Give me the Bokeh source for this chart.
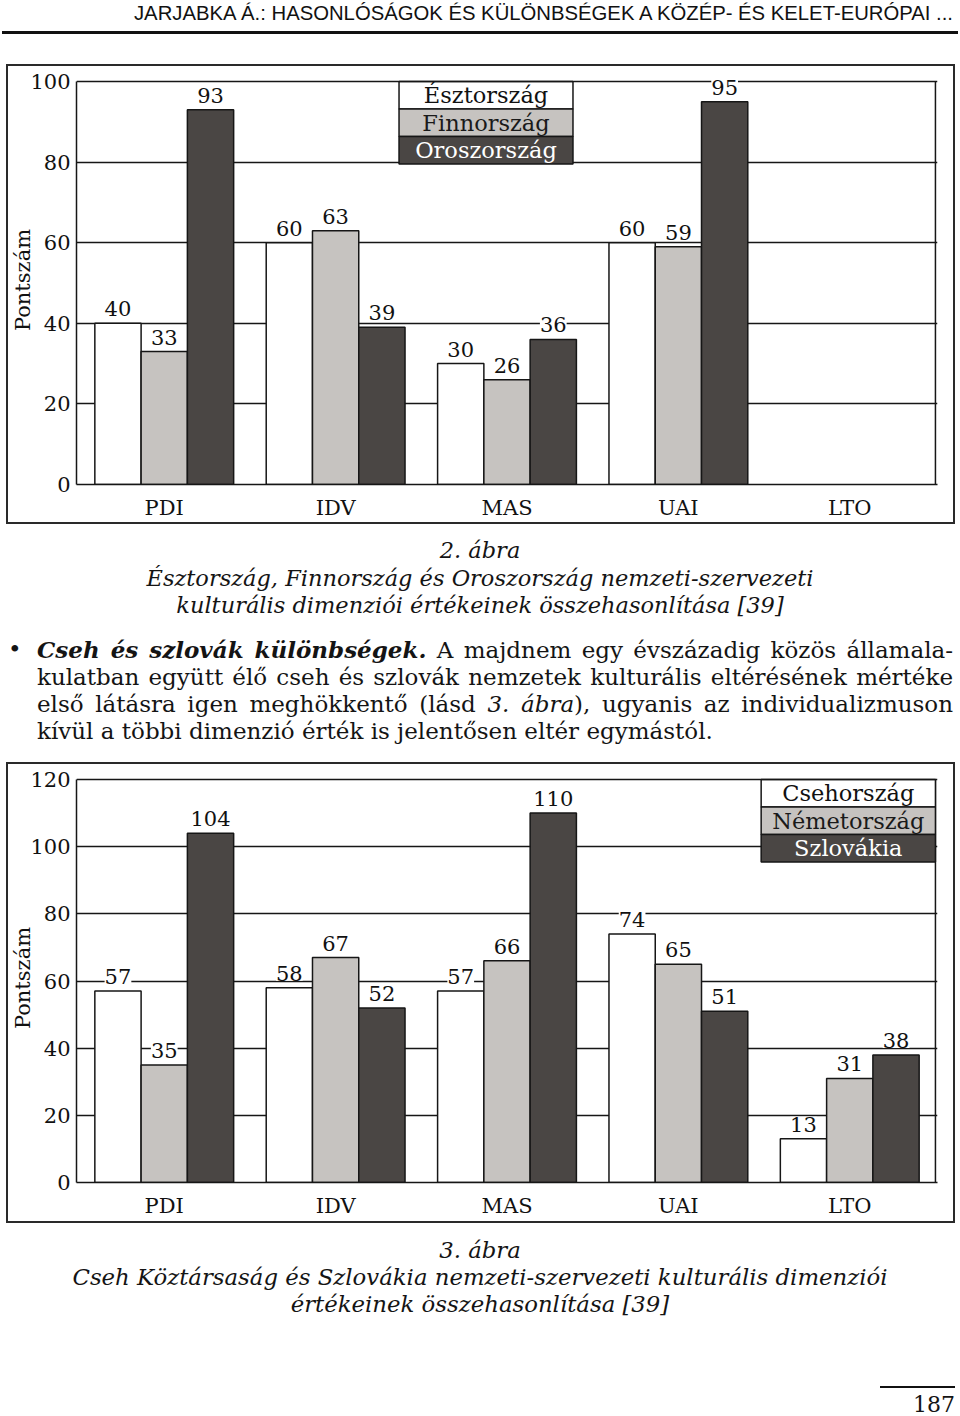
from bokeh.plotting import figure
from bokeh.models import (ColumnDataSource, FactorRange, Range1d, FixedTicker,
                          LabelSet, Span, Div)
from bokeh.layouts import column
from bokeh.transform import dodge
from bokeh.core.properties import value
from bokeh.embed import file_html
from bokeh.resources import INLINE

# ---------------- data ----------------
dimensions = ["PDI", "IDV", "MAS", "UAI", "LTO"]

fig2_countries = ["Észtország", "Finnország", "Oroszország"]
estonia = [40, 60, 30, 60, None]
finland = [33, 63, 26, 59, None]
russia = [93, 39, 36, 95, None]
fig2_yticks = [0, 20, 40, 60, 80, 100]

fig3_countries = ["Csehország", "Németország", "Szlovákia"]
czech = [57, 58, 57, 74, 13]
germany = [35, 67, 66, 65, 31]
slovakia = [104, 52, 110, 51, 38]
fig3_yticks = [0, 20, 40, 60, 80, 100, 120]

y_label = "Pontszám"

header_text = "JARJABKA Á.: HASONLÓSÁGOK ÉS KÜLÖNBSÉGEK A KÖZÉP- ÉS KELET-EURÓPAI ..."
caption2 = ["2. ábra",
            "Észtország, Finnország és Oroszország nemzeti-szervezeti",
            "kulturális dimenziói értékeinek összehasonlítása [39]"]
body_lines = [
    "<b><i>Cseh és szlovák különbségek.</i></b> A majdnem egy évszázadig közös államala-",
    "kulatban együtt élő cseh és szlovák nemzetek kulturális eltérésének mértéke",
    "első látásra igen meghökkentő (lásd <i>3. ábra</i>), ugyanis az individualizmuson",
    "kívül a többi dimenzió érték is jelentősen eltér egymástól.",
]
caption3 = ["3. ábra",
            "Cseh Köztársaság és Szlovákia nemzeti-szervezeti kulturális dimenziói",
            "értékeinek összehasonlítása [39]"]
page_number = "187"

# ---------------- style ----------------
FILLS = ["#ffffff", "#c6c3c0", "#4a4644"]
LEGEND_TEXT = ["#111111", "#1a1a1a", "#ffffff"]
INK = "#161616"
SERIF = "DejaVu Serif"
OFFSETS = [-0.27, 0.0, 0.27]
BAR_W = 0.27


def make_chart(series, names, yticks, height, min_bottom, legend_x, row_h):
    ymax = yticks[-1]
    n = len(dimensions)
    p = figure(x_range=FactorRange(*dimensions, range_padding=0.012,
                                   range_padding_units="absolute"),
               y_range=Range1d(0, ymax * 1.015),
               width=949, height=height, output_backend="svg",
               toolbar_location=None, min_border_left=70, min_border_right=18,
               min_border_top=11, min_border_bottom=min_bottom,
               margin=(0, 0, 0, 6),
               styles={"box-shadow": "inset 0 0 0 2px #2a2a2a"})
    p.border_fill_color = None
    p.background_fill_color = "white"
    p.outline_line_color = None

    # grid
    p.xgrid.grid_line_color = None
    p.ygrid.ticker = FixedTicker(ticks=yticks[1:-1])
    p.ygrid.grid_line_color = INK
    p.ygrid.grid_line_width = 1.5

    # y axis
    p.yaxis.ticker = FixedTicker(ticks=yticks)
    p.yaxis.bounds = (0, ymax)
    p.yaxis.major_tick_line_color = None
    p.yaxis.minor_tick_line_color = None
    p.yaxis.major_tick_out = 0
    p.yaxis.major_tick_in = 0
    p.yaxis.minor_tick_out = 0
    p.yaxis.axis_line_color = INK
    p.yaxis.axis_line_width = 1.5
    p.yaxis.major_label_text_font = SERIF
    p.yaxis.major_label_text_font_size = "21px"
    p.yaxis.major_label_text_color = "#111111"
    p.yaxis.major_label_standoff = 6
    p.yaxis.axis_label = y_label
    p.yaxis.axis_label_text_font = SERIF
    p.yaxis.axis_label_text_font_style = "normal"
    p.yaxis.axis_label_text_font_size = "21px"
    p.yaxis.axis_label_text_color = "#111111"
    p.yaxis.axis_label_standoff = -8

    # x axis
    p.xaxis.major_tick_line_color = None
    p.xaxis.minor_tick_line_color = None
    p.xaxis.major_tick_out = 0
    p.xaxis.major_tick_in = 0
    p.xaxis.axis_line_color = INK
    p.xaxis.axis_line_width = 1.5
    p.xaxis.major_label_text_font = SERIF
    p.xaxis.major_label_text_font_size = "21px"
    p.xaxis.major_label_text_color = "#111111"
    p.xaxis.major_label_standoff = 11

    # closing top and right edges of the plot box
    p.add_layout(Span(location=ymax, dimension="width", line_color=INK, line_width=1.5))
    p.segment(x0=[n], y0=[0], x1=[n], y1=[ymax], line_color=INK, line_width=1.5)

    # bars
    sources = []
    for i, vals in enumerate(series):
        xs = [d for d, v in zip(dimensions, vals) if v is not None]
        ys = [v for v in vals if v is not None]
        src = ColumnDataSource(dict(x=xs, top=ys, label=[str(v) for v in ys]))
        sources.append(src)
        p.vbar(x=dodge("x", OFFSETS[i], range=p.x_range), top="top", width=BAR_W,
               source=src, fill_color=FILLS[i], line_color=INK, line_width=1.5)

    # legend (stacked boxes)
    x0, x1 = legend_x
    tops = [ymax - k * row_h for k in range(len(names))]
    p.quad(left=x0, right=x1, top=tops, bottom=[t - row_h for t in tops],
           fill_color=FILLS, line_color=INK, line_width=1.5)
    p.text(x=[(x0 + x1) / 2] * len(names), y=[t - row_h / 2 for t in tops], text=names,
           text_font=value(SERIF), text_font_size=value("22.5px"), text_align="center",
           text_baseline="middle", text_color=LEGEND_TEXT)

    # value labels
    for i, src in enumerate(sources):
        ls = LabelSet(x=dodge("x", OFFSETS[i], range=p.x_range), y="top",
                      text="label", source=src, text_align="center",
                      text_baseline="alphabetic", y_offset=7,
                      text_font=value(SERIF), text_font_size=value("21px"),
                      text_color="#111111", background_fill_color="white")
        try:
            ls.padding = dict(x=6, y=0)
        except Exception:
            pass
        p.add_layout(ls)
    return p


p1 = make_chart([estonia, finland, russia], fig2_countries, fig2_yticks,
                height=460, min_bottom=40, legend_x=(1.87, 2.885), row_h=6.82)
p2 = make_chart([czech, germany, slovakia], fig3_countries, fig3_yticks,
                height=461, min_bottom=41, legend_x=(3.983, 5.0), row_h=8.18)

# ---------------- text blocks ----------------
def line_div(text, top, left=0, width=960, align="center", size=22.5, italic=False, last="auto"):
    st = ("position:absolute;left:%spx;top:%spx;width:%spx;text-align:%s;text-align-last:%s;"
          "font-family:'DejaVu Serif',serif;font-size:%spx;line-height:27px;color:#141414;"
          "font-style:%s;" % (left, top, width, align, last, size, "italic" if italic else "normal"))
    return '<div style="%s">%s</div>' % (st, text)


header_html = (
    '<div style="position:relative;width:960px;height:64px;">'
    '<div style="position:absolute;right:7px;top:3px;font-family:\'Liberation Sans\',Arial,sans-serif;'
    'font-size:20.3px;line-height:20.3px;color:#111;white-space:nowrap;">%s</div>'
    '<div style="position:absolute;left:2px;top:31px;width:956px;height:2.5px;background:#111;"></div>'
    '</div>' % header_text)

mid_parts = []
for t, top in zip(caption2, [12.5, 40.5, 67.5]):
    mid_parts.append(line_div(t, top, italic=True))
mid_parts.append('<div style="position:absolute;left:8px;top:111.5px;font-family:\'DejaVu Serif\',serif;'
                 'font-size:23px;line-height:27px;color:#141414;">&#8226;</div>')
for k, (t, top) in enumerate(zip(body_lines, [111.5, 139.5, 166.5, 193.5])):
    last = "justify" if k < 3 else "left"
    mid_parts.append(line_div(t, top, left=37, width=916, align="justify" if k < 3 else "left",
                              size=23, last=last))
mid_html = '<div style="position:relative;width:960px;height:238px;">%s</div>' % "".join(mid_parts)

bot_parts = []
for t, top in zip(caption3, [13.5, 40.5, 67.5]):
    bot_parts.append(line_div(t, top, italic=True, size=22.8))
bot_parts.append('<div style="position:absolute;left:880px;top:163px;width:75px;height:1.5px;background:#111;"></div>')
bot_parts.append('<div style="position:absolute;right:5px;top:167.5px;font-family:\'DejaVu Serif\',serif;'
                 'font-size:22px;line-height:27px;color:#141414;">%s</div>' % page_number)
bot_html = '<div style="position:relative;width:960px;height:193px;">%s</div>' % "".join(bot_parts)

header_div = Div(text=header_html, width=960, height=64, margin=0)
mid_div = Div(text=mid_html, width=960, height=238, margin=0)
bot_div = Div(text=bot_html, width=960, height=193, margin=0)

layout = column(header_div, p1, mid_div, p2, bot_div, spacing=0, margin=0)

open("out.html", "w").write(file_html(layout, INLINE))
